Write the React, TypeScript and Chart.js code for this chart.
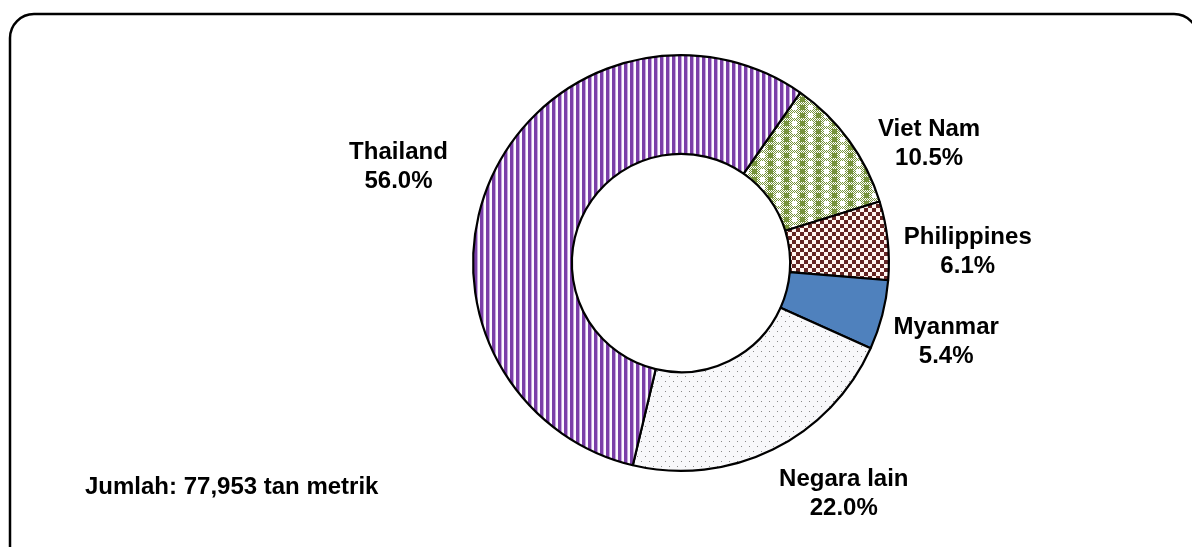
import React, { useEffect, useRef } from "react";
import { Chart, registerables } from "chart.js";

Chart.register(...registerables);

// ---- data ----
const categories = ["Viet Nam", "Philippines", "Myanmar", "Negara lain", "Thailand"];
const shares = [10.5, 6.1, 5.4, 22.0, 56.0];
const percentLabels = ["10.5%", "6.1%", "5.4%", "22.0%", "56.0%"];
const totalNote = "Jumlah: 77,953 tan metrik";

// ---- label layout (degrees offset from slice mid-angle, distance from centre) ----
const labelAngleShift = [10.1, 3.7, 1.6, -9.2, -5.1];
const labelDistance = [276, 287, 276, 281, 299];

const FONT = "bold 24px 'Liberation Sans', Arial, sans-serif";

function makeTile(w: number, h: number, draw: (c: CanvasRenderingContext2D) => void) {
  const cv = document.createElement("canvas");
  cv.width = w;
  cv.height = h;
  const c = cv.getContext("2d")!;
  draw(c);
  return c.createPattern(cv, "repeat")!;
}

function buildPatterns() {
  const stripes = makeTile(6, 6, (c) => {
    c.fillStyle = "#fdfaff";
    c.fillRect(0, 0, 6, 6);
    c.fillStyle = "#7a3ea8";
    c.fillRect(0, 0, 3, 6);
    c.fillStyle = "#c4a8da";
    c.fillRect(3, 0, 1, 6);
  });
  const green = makeTile(16, 8, (c) => {
    c.fillStyle = "#ffffff";
    c.fillRect(0, 0, 16, 8);
    c.fillStyle = "#77933c";
    for (let y = 0; y < 8; y++)
      for (let x = 0; x < 16; x++) if ((x + y) % 2 === 0) c.fillRect(x, y, 1, 1);
    c.fillStyle = "#77933c";
    c.fillRect(0, 1, 5, 5);
    c.fillStyle = "#ffffff";
    c.fillRect(8, 1, 5, 5);
  });
  const checker = makeTile(8, 8, (c) => {
    c.fillStyle = "#fff6f0";
    c.fillRect(0, 0, 8, 8);
    c.fillStyle = "#632523";
    c.fillRect(0, 0, 4, 4);
    c.fillRect(4, 4, 4, 4);
  });
  const dots = makeTile(8, 10, (c) => {
    c.fillStyle = "#f8f8fa";
    c.fillRect(0, 0, 8, 10);
    c.fillStyle = "#8a8a8a";
    c.fillRect(1, 1, 1, 1);
    c.fillRect(5, 6, 1, 1);
  });
  return [green, checker, "#4f81bd", dots, stripes];
}

const framePlugin = {
  id: "frame",
  beforeDraw(chart: any) {
    const c = chart.ctx as CanvasRenderingContext2D;
    c.save();
    c.fillStyle = "#ffffff";
    c.fillRect(0, 0, chart.width, chart.height);
    c.beginPath();
    (c as any).roundRect(10, 14, 1188, 560, 24);
    c.lineWidth = 2.5;
    c.strokeStyle = "#000000";
    c.stroke();
    c.restore();
  },
};

const labelPlugin = {
  id: "sliceLabels",
  afterDraw(chart: any) {
    const c = chart.ctx as CanvasRenderingContext2D;
    const meta = chart.getDatasetMeta(0);
    c.save();
    c.font = FONT;
    c.fillStyle = "#000000";
    c.textAlign = "center";
    c.textBaseline = "alphabetic";
    const cap = 24 * 0.358;
    meta.data.forEach((arc: any, i: number) => {
      const p = arc.getProps(["x", "y", "startAngle", "endAngle"], true);
      const mid = (p.startAngle + p.endAngle) / 2 + (labelAngleShift[i] * Math.PI) / 180;
      const cx = p.x + Math.cos(mid) * labelDistance[i];
      const cy = p.y + Math.sin(mid) * labelDistance[i];
      c.fillText(categories[i], cx, cy - 14.5 + cap);
      c.fillText(percentLabels[i], cx, cy + 14.5 + cap);
    });
    c.textAlign = "left";
    c.fillText(totalNote, 85, 485 + cap);
    c.restore();
  },
};

export default function App() {
  const ref = useRef<HTMLCanvasElement>(null);
  useEffect(() => {
    if (!ref.current) return;
    const chart = new Chart(ref.current, {
      type: "doughnut",
      data: {
        labels: categories,
        datasets: [
          {
            data: shares,
            backgroundColor: buildPatterns() as any,
            borderColor: "#000000",
            borderWidth: 2.2,
            hoverOffset: 0,
          },
        ],
      },
      options: {
        animation: false,
        responsive: true,
        maintainAspectRatio: false,
        rotation: 35,
        cutout: "52.5%",
        layout: { padding: { left: 472, right: 302, top: 54, bottom: 75 } },
        plugins: {
          legend: { display: false },
          tooltip: { enabled: false },
        },
      },
      plugins: [framePlugin, labelPlugin],
    });
    return () => chart.destroy();
  }, []);
  return (
    <div style={{ position: "fixed", left: 0, top: 0, width: 1192, height: 547, background: "#fff" }}>
      <canvas ref={ref} />
    </div>
  );
}
